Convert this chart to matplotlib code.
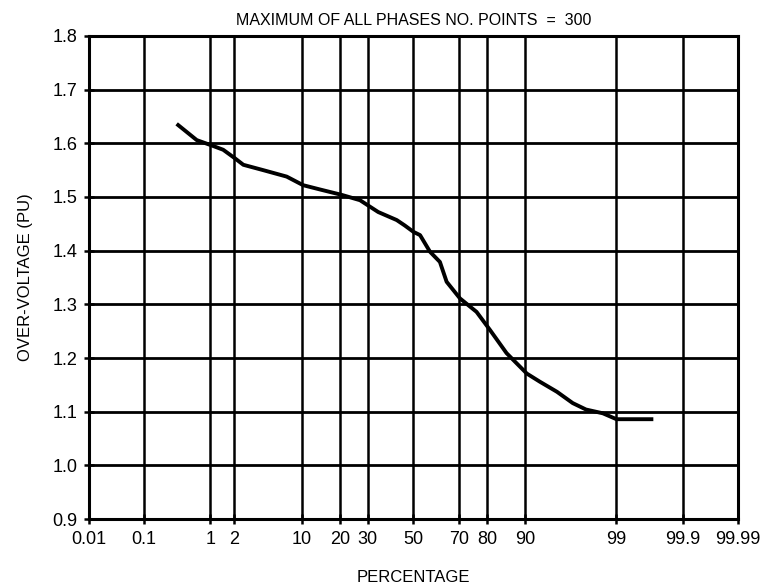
import numpy as np
import matplotlib
matplotlib.use('Agg')
import matplotlib.pyplot as plt
from statistics import NormalDist

plt.rcParams['font.family'] = ['Liberation Sans', 'DejaVu Sans']

# Cumulative percentage vs maximum over-voltage
percent = [0.35, 0.65, 1.04, 1.46, 2.04, 2.56, 4.26, 7.31, 10.3, 14.2, 20.5,
           27.0, 34.3, 42.4, 46.0, 50.0, 53.0, 57.5, 61.9, 64.8, 70.3, 76.5,
           81.0, 85.7, 90.3, 92.6, 95.0, 96.6, 97.6, 98.5, 99.0, 99.68]
voltage = [1.634, 1.606, 1.596, 1.588, 1.572, 1.560, 1.550, 1.538, 1.522,
           1.514, 1.504, 1.494, 1.472, 1.457, 1.447, 1.435, 1.429, 1.398,
           1.379, 1.342, 1.311, 1.286, 1.252, 1.209, 1.171, 1.156, 1.137,
           1.116, 1.104, 1.097, 1.086, 1.086]

x_ticks = [0.01, 0.1, 1, 2, 10, 20, 30, 50, 70, 80, 90, 99, 99.9, 99.99]
x_tick_labels = ['0.01', '0.1', '1', '2', '10', '20', '30', '50', '70', '80',
                 '90', '99', '99.9', '99.99']
y_ticks = [0.9, 1.0, 1.1, 1.2, 1.3, 1.4, 1.5, 1.6, 1.7, 1.8]

nd = NormalDist()
_ppf = np.vectorize(lambda v: nd.inv_cdf(v / 100.0), otypes=[float])
_cdf = np.vectorize(lambda v: nd.cdf(v) * 100.0, otypes=[float])


def forward(p):
    p = np.clip(np.asarray(p, dtype=float), 1e-9, 100 - 1e-9)
    return _ppf(p)


def inverse(z):
    return _cdf(np.asarray(z, dtype=float))


fig = plt.figure(figsize=(7.65, 5.87), dpi=100)
ax = fig.add_axes([0.1163, 0.1158, 0.8484, 0.8229])
ax.set_xscale('function', functions=(forward, inverse))

# probability paper grid
for xv in x_ticks:
    ax.axvline(xv, color='black', lw=1.8, zorder=1)
for yv in y_ticks:
    ax.axhline(yv, color='black', lw=2.0, zorder=1)

ax.plot(percent, voltage, color='black', lw=2.8, zorder=3)

ax.set_xlim(0.01, 99.99)
ax.set_ylim(0.9, 1.8)
ax.set_xticks(x_ticks)
ax.set_xticklabels(x_tick_labels)
ax.xaxis.set_minor_locator(matplotlib.ticker.NullLocator())
ax.set_yticks(y_ticks)
ax.set_yticklabels(['%.1f' % v for v in y_ticks])
ax.tick_params(direction='inout', length=7, width=1.8, labelsize=13,
               color='black', pad=5)

for s in ax.spines.values():
    s.set_linewidth(2.2)

ax.set_title('MAXIMUM OF ALL PHASES NO. POINTS  =  300', fontsize=11.5, pad=8)
ax.set_xlabel('PERCENTAGE', fontsize=12, labelpad=16)
ax.set_ylabel('OVER-VOLTAGE (PU)', fontsize=12, labelpad=14)

fig.savefig('out.png', dpi=100)
